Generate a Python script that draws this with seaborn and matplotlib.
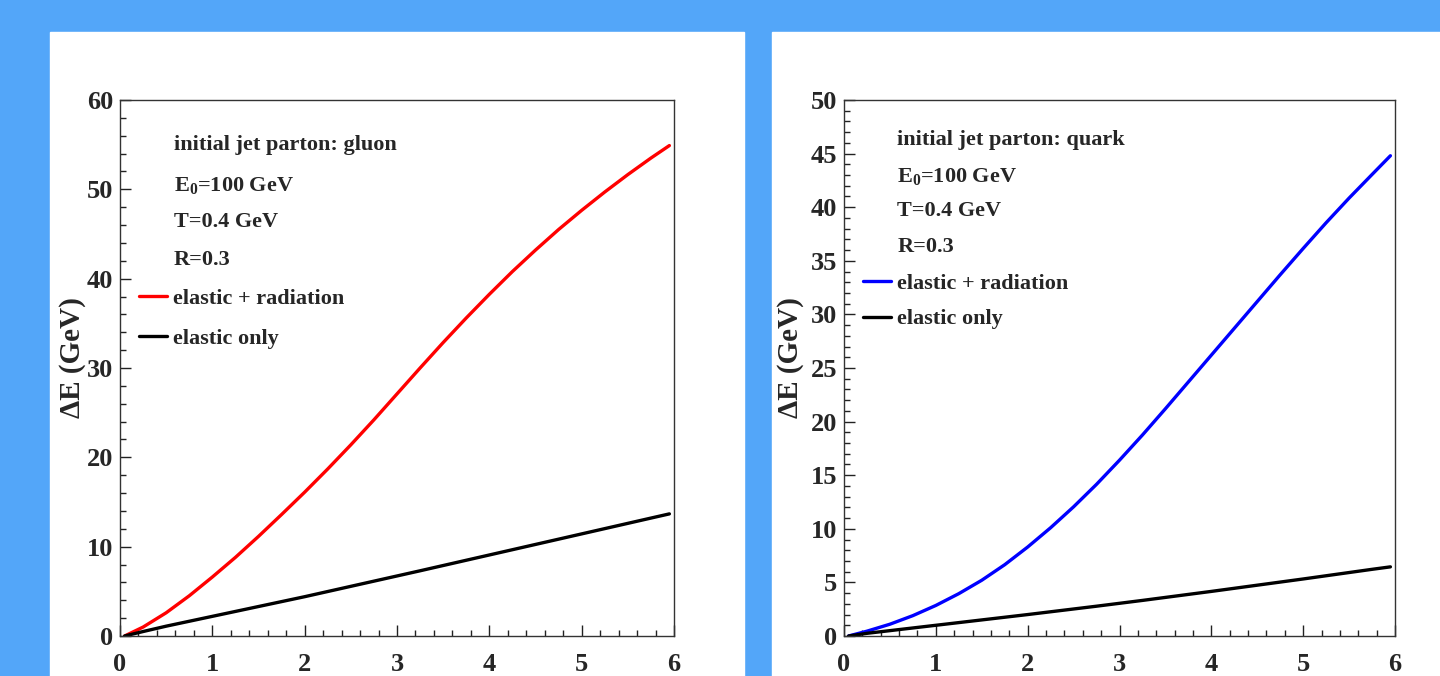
import numpy as np
import pandas as pd
import matplotlib
matplotlib.use("Agg")
import matplotlib.pyplot as plt
from matplotlib.patches import Rectangle
from matplotlib.ticker import MultipleLocator
import seaborn as sns

# path length (fm) and energy loss (GeV)
x_vals = [0.05, 0.25, 0.5, 0.75, 1.0, 1.25, 1.5, 1.75, 2.0, 2.25, 2.5, 2.75, 3.0,
          3.25, 3.5, 3.75, 4.0, 4.25, 4.5, 4.75, 5.0, 5.25, 5.5, 5.75, 5.95]
gluon_rad = [0.0, 1.0, 2.6, 4.5, 6.6, 8.8, 11.15, 13.6, 16.1, 18.7, 21.4, 24.2, 27.1,
             30.0, 32.85, 35.6, 38.25, 40.8, 43.2, 45.5, 47.65, 49.7, 51.65, 53.5, 54.9]
gluon_el = [0.0, 0.5, 1.1, 1.65, 2.2, 2.75, 3.3, 3.85, 4.4, 4.98, 5.56, 6.14, 6.72,
            7.3, 7.89, 8.48, 9.07, 9.66, 10.25, 10.84, 11.43, 12.02, 12.61, 13.2, 13.67]
quark_rad = [0.0, 0.45, 1.1, 1.9, 2.85, 3.95, 5.2, 6.65, 8.3, 10.1, 12.05, 14.15, 16.4,
             18.75, 21.2, 23.7, 26.2, 28.7, 31.2, 33.7, 36.15, 38.55, 40.85, 43.05, 44.8]
quark_el = [0.0, 0.25, 0.5, 0.75, 1.0, 1.25, 1.5, 1.75, 2.0, 2.26, 2.52, 2.78, 3.05,
            3.32, 3.6, 3.88, 4.16, 4.45, 4.74, 5.03, 5.32, 5.62, 5.92, 6.22, 6.45]

info_gluon = ["initial jet parton: gluon", "E$_0$=100 GeV", "T=0.4 GeV", "R=0.3"]
info_quark = ["initial jet parton: quark", "E$_0$=100 GeV", "T=0.4 GeV", "R=0.3"]
legend_labels = ["elastic + radiation", "elastic only"]

sns.set_theme(style="ticks")
plt.rcParams["font.family"] = ["Liberation Serif", "DejaVu Serif"]
plt.rcParams["font.weight"] = "bold"
plt.rcParams["mathtext.fontset"] = "custom"
plt.rcParams["mathtext.rm"] = "Liberation Serif:bold"
plt.rcParams["mathtext.it"] = "Liberation Serif:bold"

fig = plt.figure(figsize=(14.4, 6.76), dpi=100)
fig.patch.set_facecolor("#53A6F9")
fig.patches.append(Rectangle((50 / 1440, 0), 694 / 1440, 1 - 32 / 676,
                             transform=fig.transFigure, color="white", zorder=0))
fig.patches.append(Rectangle((772 / 1440, 0), 668 / 1440, 1 - 32 / 676,
                             transform=fig.transFigure, color="white", zorder=0))

ax1 = fig.add_axes([120 / 1440, 40 / 676, 554 / 1440, 536 / 676])
ax2 = fig.add_axes([844 / 1440, 40 / 676, 551 / 1440, 536 / 676])

df_g = pd.DataFrame({"x": x_vals, "rad": gluon_rad, "el": gluon_el})
df_q = pd.DataFrame({"x": x_vals, "rad": quark_rad, "el": quark_el})

panels = [
    (ax1, df_g, "red", 60, 10, 2, info_gluon, [0.916, 0.841, 0.772, 0.701], 0.648, 0.85, -0.062),
    (ax2, df_q, "blue", 50, 5, 1, info_quark, [0.925, 0.858, 0.793, 0.726], 0.676, 0.66, -0.073),
]

for ax, df, col, ymax, ymaj, ymin, info, ys, leg_y, lsp, lab_x in panels:
    ax.set_zorder(2)
    sns.lineplot(data=df, x="x", y="rad", color=col, lw=2.4, ax=ax, label=legend_labels[0])
    sns.lineplot(data=df, x="x", y="el", color="black", lw=2.4, ax=ax, label=legend_labels[1])
    ax.set_xlim(0, 6)
    ax.set_ylim(0, ymax)
    ax.xaxis.set_major_locator(MultipleLocator(1))
    ax.xaxis.set_minor_locator(MultipleLocator(0.2))
    ax.yaxis.set_major_locator(MultipleLocator(ymaj))
    ax.yaxis.set_minor_locator(MultipleLocator(ymin))
    ax.tick_params(which="both", direction="in", top=False, right=False,
                   color="#222222", width=1)
    ax.tick_params(which="major", length=8, labelsize=19)
    ax.tick_params(which="minor", length=4)
    ax.tick_params(axis="x", pad=12)
    ax.tick_params(axis="y", pad=5)
    for lbl in ax.get_xticklabels() + ax.get_yticklabels():
        lbl.set_fontweight("bold")
    for s in ax.spines.values():
        s.set_color("#333333")
        s.set_linewidth(1)
    ax.set_xlabel("")
    ax.set_ylabel("ΔE (GeV)", fontsize=21, fontweight="bold")
    ax.yaxis.set_label_coords(lab_x, 0.52)
    for t, y in zip(info, ys):
        ax.text(0.097, y, t, transform=ax.transAxes, fontsize=16,
                fontweight="bold", va="center", ha="left")
    ax.legend(loc="upper left", bbox_to_anchor=(0.035, leg_y), frameon=False,
              prop={"size": 16, "weight": "bold"}, handlelength=1.26,
              handletextpad=0.27, labelspacing=lsp, borderpad=0, borderaxespad=0)

fig.savefig("out.png", dpi=100, facecolor=fig.get_facecolor())
